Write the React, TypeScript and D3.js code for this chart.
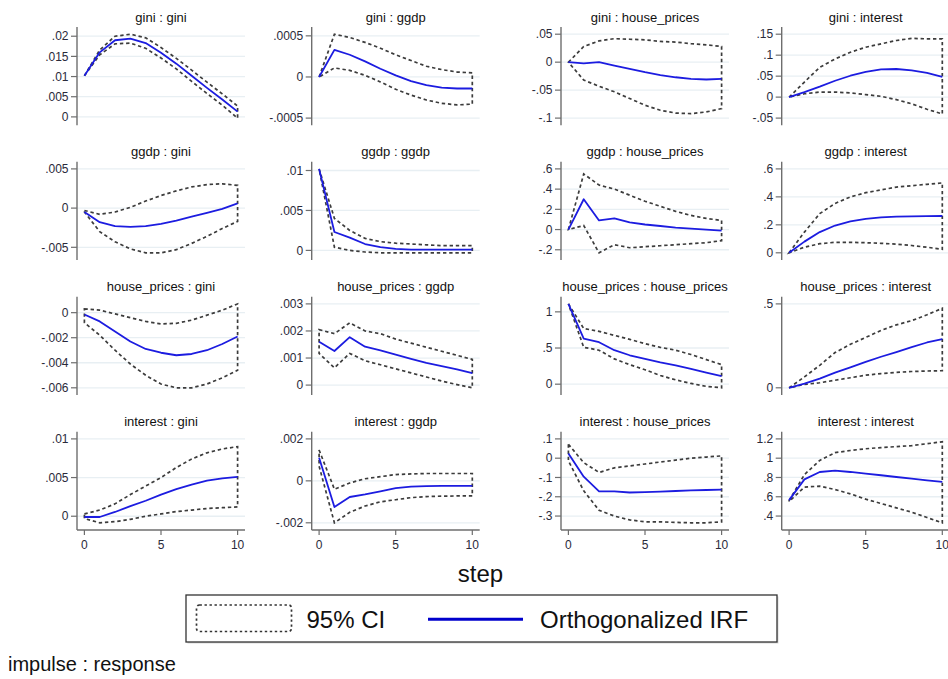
import React from "react";
import * as d3 from "d3";

// ---------- DATA ----------
const steps = [0, 1, 2, 3, 4, 5, 6, 7, 8, 9, 10];
const variables = ["gini", "ggdp", "house_prices", "interest"];
const xTicks = [0, 5, 10];

// impulse gini
const giniGiniIrf = [0.0102, 0.016, 0.019, 0.0194, 0.0183, 0.0159, 0.0132, 0.0102, 0.0072, 0.0043, 0.0013];
const giniGiniHi = [0.0102, 0.0166, 0.02, 0.0205, 0.0196, 0.0172, 0.0145, 0.0116, 0.0086, 0.0057, 0.0027];
const giniGiniLo = [0.0102, 0.0154, 0.0181, 0.0183, 0.017, 0.0146, 0.0119, 0.0088, 0.0058, 0.0029, -0.0003];
const giniGiniTicks = [0, 0.005, 0.01, 0.015, 0.02];

const giniGgdpIrf = [0, 0.00033, 0.00027, 0.00019, 0.0001, 0.00002, -0.00005, -0.0001, -0.00013, -0.00014, -0.00014];
const giniGgdpHi = [0, 0.00052, 0.00048, 0.00042, 0.00035, 0.00027, 0.0002, 0.00013, 0.00009, 0.00006, 0.00005];
const giniGgdpLo = [0, 0.00011, 0.00008, 0.00002, -0.00006, -0.00015, -0.00022, -0.00028, -0.00032, -0.00034, -0.00033];
const giniGgdpTicks = [-0.0005, 0, 0.0005];

const giniHpIrf = [0, -0.002, 0, -0.006, -0.012, -0.018, -0.023, -0.027, -0.03, -0.031, -0.03];
const giniHpHi = [0, 0.028, 0.038, 0.042, 0.041, 0.04, 0.037, 0.036, 0.033, 0.031, 0.028];
const giniHpLo = [0, -0.032, -0.043, -0.053, -0.065, -0.077, -0.086, -0.091, -0.092, -0.089, -0.083];
const giniHpTicks = [-0.1, -0.05, 0, 0.05];

const giniIntIrf = [0, 0.012, 0.025, 0.039, 0.051, 0.06, 0.066, 0.067, 0.064, 0.058, 0.048];
const giniIntHi = [0, 0.036, 0.071, 0.091, 0.107, 0.119, 0.127, 0.135, 0.14, 0.139, 0.139];
const giniIntLo = [0, 0.008, 0.012, 0.012, 0.01, 0.006, 0.002, -0.006, -0.016, -0.029, -0.04];
const giniIntTicks = [-0.05, 0, 0.05, 0.1, 0.15];

// impulse ggdp
const ggdpGiniIrf = [-0.0005, -0.0018, -0.0023, -0.0024, -0.0023, -0.002, -0.0016, -0.0011, -0.0006, -0.0001, 0.0006];
const ggdpGiniHi = [-0.0003, -0.0008, -0.0005, 0.0001, 0.0009, 0.0016, 0.0022, 0.0027, 0.003, 0.0031, 0.0029];
const ggdpGiniLo = [-0.0005, -0.003, -0.0043, -0.0052, -0.0057, -0.0057, -0.0053, -0.0045, -0.0036, -0.0026, -0.0017];
const ggdpGiniTicks = [-0.005, 0, 0.005];

const ggdpGgdpIrf = [0.0102, 0.0023, 0.0016, 0.0008, 0.0004, 0.0002, 0.0001, 0.0001, 0.0001, 0.0001, 0.0001];
const ggdpGgdpHi = [0.0102, 0.004, 0.0025, 0.0015, 0.0011, 0.0009, 0.0008, 0.0007, 0.0006, 0.0006, 0.0006];
const ggdpGgdpLo = [0.0102, 0.0004, 0.0, -0.0002, -0.0003, -0.0003, -0.0003, -0.0003, -0.0003, -0.0003, -0.0003];
const ggdpGgdpTicks = [0, 0.005, 0.01];

const ggdpHpIrf = [0, 0.3, 0.09, 0.11, 0.07, 0.05, 0.035, 0.02, 0.01, 0.0, -0.01];
const ggdpHpHi = [0, 0.55, 0.44, 0.4, 0.34, 0.28, 0.23, 0.18, 0.14, 0.11, 0.09];
const ggdpHpLo = [0, 0.04, -0.23, -0.15, -0.18, -0.17, -0.16, -0.15, -0.14, -0.13, -0.11];
const ggdpHpTicks = [-0.2, 0, 0.2, 0.4, 0.6];

const ggdpIntIrf = [0, 0.08, 0.148, 0.195, 0.225, 0.243, 0.253, 0.258, 0.261, 0.262, 0.263];
const ggdpIntHi = [0, 0.148, 0.28, 0.353, 0.4, 0.43, 0.45, 0.47, 0.48, 0.49, 0.5];
const ggdpIntLo = [0, 0.04, 0.065, 0.075, 0.075, 0.072, 0.068, 0.062, 0.052, 0.04, 0.025];
const ggdpIntTicks = [0, 0.2, 0.4, 0.6];

// impulse house_prices
const hpGiniIrf = [-0.00015, -0.0007, -0.0015, -0.0023, -0.0029, -0.0032, -0.0034, -0.0033, -0.003, -0.0025, -0.0019];
const hpGiniHi = [0.0003, 0.0002, -0.0001, -0.0004, -0.0007, -0.0009, -0.00085, -0.0006, -0.0002, 0.0002, 0.0007];
const hpGiniLo = [-0.0008, -0.0018, -0.003, -0.0041, -0.005, -0.0057, -0.006, -0.006, -0.0057, -0.0052, -0.0046];
const hpGiniTicks = [-0.006, -0.004, -0.002, 0];

const hpGgdpIrf = [0.0016, 0.00126, 0.00177, 0.00142, 0.00128, 0.00113, 0.00097, 0.00082, 0.0007, 0.00058, 0.00044];
const hpGgdpHi = [0.00205, 0.0019, 0.0023, 0.002, 0.0019, 0.0017, 0.00155, 0.0014, 0.00125, 0.0011, 0.00095];
const hpGgdpLo = [0.00117, 0.00064, 0.00117, 0.0009, 0.00075, 0.0006, 0.00045, 0.0003, 0.00015, 0.00002, -0.0001];
const hpGgdpTicks = [0, 0.001, 0.002, 0.003];

const hpHpIrf = [1.11, 0.63, 0.58, 0.47, 0.4, 0.35, 0.3, 0.26, 0.21, 0.16, 0.11];
const hpHpHi = [1.11, 0.77, 0.73, 0.675, 0.62, 0.56, 0.51, 0.47, 0.41, 0.34, 0.27];
const hpHpLo = [1.11, 0.51, 0.47, 0.35, 0.27, 0.2, 0.12, 0.06, 0.01, -0.03, -0.05];
const hpHpTicks = [0, 0.5, 1];

const hpIntIrf = [0, 0.025, 0.055, 0.09, 0.122, 0.154, 0.185, 0.213, 0.243, 0.27, 0.29];
const hpIntHi = [0, 0.065, 0.134, 0.21, 0.259, 0.3, 0.342, 0.375, 0.4, 0.435, 0.474];
const hpIntLo = [0, 0.02, 0.03, 0.045, 0.06, 0.075, 0.085, 0.092, 0.097, 0.1, 0.102];
const hpIntTicks = [0, 0.5];

// impulse interest
const intGiniIrf = [-0.0001, -0.0001, 0.00055, 0.0013, 0.002, 0.0028, 0.0035, 0.0041, 0.0046, 0.0049, 0.0051];
const intGiniHi = [0.0003, 0.0008, 0.0016, 0.0028, 0.0039, 0.005, 0.0063, 0.0074, 0.0082, 0.0087, 0.009];
const intGiniLo = [-0.0003, -0.00085, -0.0007, -0.0004, 0.0, 0.0003, 0.0006, 0.0008, 0.001, 0.0011, 0.0012];
const intGiniTicks = [0, 0.005, 0.01];

const intGgdpIrf = [0.0011, -0.00125, -0.00077, -0.00065, -0.0005, -0.00035, -0.00028, -0.00025, -0.00024, -0.00024, -0.00024];
const intGgdpHi = [0.00147, -0.0004, -0.0001, 0.0001, 0.0002, 0.0003, 0.00033, 0.00035, 0.00035, 0.00035, 0.00035];
const intGgdpLo = [0.0007, -0.002, -0.0015, -0.0012, -0.001, -0.0009, -0.0008, -0.00075, -0.00073, -0.00072, -0.00072];
const intGgdpTicks = [-0.002, 0, 0.002];

const intHpIrf = [0.024, -0.096, -0.172, -0.172, -0.178, -0.176, -0.173, -0.17, -0.167, -0.165, -0.163];
const intHpHi = [0.072, -0.023, -0.074, -0.05, -0.04, -0.03, -0.02, -0.01, 0.0, 0.006, 0.012];
const intHpLo = [-0.014, -0.169, -0.27, -0.3, -0.32, -0.33, -0.33, -0.333, -0.335, -0.335, -0.33];
const intHpTicks = [-0.3, -0.2, -0.1, 0, 0.1];

const intIntIrf = [0.565, 0.78, 0.857, 0.87, 0.857, 0.84, 0.823, 0.805, 0.789, 0.771, 0.754];
const intIntHi = [0.56, 0.83, 0.977, 1.057, 1.08, 1.098, 1.11, 1.12, 1.13, 1.15, 1.17];
const intIntLo = [0.55, 0.7, 0.71, 0.675, 0.63, 0.575, 0.53, 0.485, 0.44, 0.385, 0.33];
const intIntTicks = [0.4, 0.6, 0.8, 1, 1.2];

const legendLabels = ["95% CI", "Orthogonalized IRF"];
const xAxisTitle = "step";
const noteText = "impulse : response";

// ---------- LAYOUT ----------
const W = 948;
const H = 679;
const colAxisX = [77, 311.7, 561, 781.7];
const rowTop = [27, 161.7, 296.7, 431.7];
const plotW = 168;
const plotH = 98.3;
const padX = 7.4;
const padY = 7.2;
const FONT = "'Liberation Sans', Arial, Helvetica, sans-serif";
const BLUE = "#1c1ce0";
const CI = "#3c3c3c";
const AXIS = "#6e6e6e";
const GRID = "#e8eff3";

const panelSeries = [
  [giniGiniIrf, giniGiniLo, giniGiniHi, giniGiniTicks],
  [giniGgdpIrf, giniGgdpLo, giniGgdpHi, giniGgdpTicks],
  [giniHpIrf, giniHpLo, giniHpHi, giniHpTicks],
  [giniIntIrf, giniIntLo, giniIntHi, giniIntTicks],
  [ggdpGiniIrf, ggdpGiniLo, ggdpGiniHi, ggdpGiniTicks],
  [ggdpGgdpIrf, ggdpGgdpLo, ggdpGgdpHi, ggdpGgdpTicks],
  [ggdpHpIrf, ggdpHpLo, ggdpHpHi, ggdpHpTicks],
  [ggdpIntIrf, ggdpIntLo, ggdpIntHi, ggdpIntTicks],
  [hpGiniIrf, hpGiniLo, hpGiniHi, hpGiniTicks],
  [hpGgdpIrf, hpGgdpLo, hpGgdpHi, hpGgdpTicks],
  [hpHpIrf, hpHpLo, hpHpHi, hpHpTicks],
  [hpIntIrf, hpIntLo, hpIntHi, hpIntTicks],
  [intGiniIrf, intGiniLo, intGiniHi, intGiniTicks],
  [intGgdpIrf, intGgdpLo, intGgdpHi, intGgdpTicks],
  [intHpIrf, intHpLo, intHpHi, intHpTicks],
  [intIntIrf, intIntLo, intIntHi, intIntTicks],
];

function stataFmt(v: number): string {
  let s = String(+v.toPrecision(6));
  s = s.replace(/^(-?)0\./, "$1.");
  return s;
}

function Panel({ idx }: { idx: number }) {
  const row = Math.floor(idx / 4);
  const col = idx % 4;
  const [irf, lo, hi, ticks] = panelSeries[idx] as number[][];
  const ax = colAxisX[col];
  const top = rowTop[row];
  const bottom = top + plotH;
  const x = d3.scaleLinear().domain([0, 10]).range([ax + padX, ax + plotW - padX]);
  const ext = d3.extent([...ticks, ...irf, ...lo, ...hi]) as [number, number];
  const y = d3.scaleLinear().domain(ext).range([bottom - padY, top + padY]);
  const line = d3
    .line<number>()
    .x((_, i) => x(steps[i]))
    .y((d) => y(d));
  const ciPts: [number, number][] = [
    ...steps.map((s, i) => [x(s), y(hi[i])] as [number, number]),
    ...steps
      .slice()
      .reverse()
      .map((s) => [x(s), y(lo[s])] as [number, number]),
  ];
  const ciPath = d3.line()(ciPts) + "Z";
  const title = `${variables[row]} : ${variables[col]}`;
  const isBottom = row === 3;
  return (
    <g>
      <text
        x={ax + plotW / 2}
        y={top - 5.5}
        textAnchor="middle"
        fontSize={13}
        fontFamily={FONT}
        fill="#111"
      >
        {title}
      </text>
      {ticks.map((t) => (
        <line
          key={"g" + t}
          x1={ax}
          x2={ax + plotW}
          y1={y(t)}
          y2={y(t)}
          stroke={GRID}
          strokeWidth={1.3}
        />
      ))}
      <path d={ciPath} fill="none" stroke={CI} strokeWidth={1.7} strokeDasharray="3.4,2.8" />
      <path d={line(irf) || ""} fill="none" stroke={BLUE} strokeWidth={1.8} strokeLinejoin="round" />
      <line x1={ax} x2={ax} y1={top} y2={bottom} stroke={AXIS} strokeWidth={1.4} />
      {ticks.map((t) => (
        <g key={"t" + t}>
          <line x1={ax - 6} x2={ax} y1={y(t)} y2={y(t)} stroke={AXIS} strokeWidth={1.2} />
          <text
            x={ax - 8.5}
            y={y(t)}
            dy="0.35em"
            textAnchor="end"
            fontSize={12}
            fontFamily={FONT}
            fill="#2a2a3a"
          >
            {stataFmt(t)}
          </text>
        </g>
      ))}
      {isBottom && (
        <g>
          <line x1={ax} x2={ax + plotW} y1={bottom} y2={bottom} stroke={AXIS} strokeWidth={1.4} />
          {xTicks.map((t) => (
            <g key={"x" + t}>
              <line x1={x(t)} x2={x(t)} y1={bottom} y2={bottom + 5} stroke={AXIS} strokeWidth={1.2} />
              <text
                x={x(t)}
                y={bottom + 19}
                textAnchor="middle"
                fontSize={12}
                fontFamily={FONT}
                fill="#2a2a3a"
              >
                {t}
              </text>
            </g>
          ))}
        </g>
      )}
    </g>
  );
}

export default function App() {
  return (
    <svg
      width={W}
      height={H}
      viewBox={`0 0 ${W} ${H}`}
      style={{ position: "absolute", left: 0, top: 0, background: "#fff" }}
    >
      <rect x={0} y={0} width={W} height={H} fill="#fff" />
      {panelSeries.map((_, i) => (
        <Panel key={i} idx={i} />
      ))}
      <text x={480.5} y={582} textAnchor="middle" fontSize={24} fontFamily={FONT} fill="#111">
        {xAxisTitle}
      </text>
      <rect x={187.5} y={596.5} width={591} height={47} fill="#d8d8d8" stroke="none" />
      <rect x={186} y={595} width={591} height={47} fill="#fff" stroke="#333" strokeWidth={1.3} />
      <rect
        x={196.5}
        y={605}
        width={95}
        height={26.5}
        rx={3}
        fill="none"
        stroke="#333"
        strokeWidth={1.7}
        strokeDasharray="2.4,2.6"
      />
      <text x={306.5} y={628} fontSize={24} fontFamily={FONT} fill="#111">
        {legendLabels[0]}
      </text>
      <line x1={428} x2={523} y1={619.3} y2={619.3} stroke="#0000cc" strokeWidth={3} />
      <text x={540} y={627.5} fontSize={24} fontFamily={FONT} fill="#111">
        {legendLabels[1]}
      </text>
      <text x={8} y={671} fontSize={20} fontFamily={FONT} fill="#111">
        {noteText}
      </text>
    </svg>
  );
}
